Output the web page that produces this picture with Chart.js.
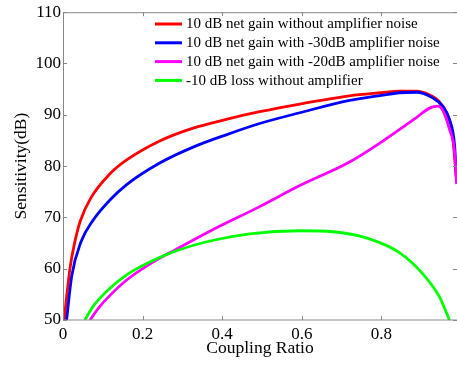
<!DOCTYPE html>
<html>
<head>
<meta charset="utf-8">
<script src="https://cdn.jsdelivr.net/npm/chart.js@4.4.0/dist/chart.umd.min.js"></script>
<style>
  html, body { margin: 0; padding: 0; background: #fff; }
  #wrap { width: 457px; height: 365px; }
</style>
</head>
<body>
<div id="wrap"><canvas id="chart" width="457" height="365"></canvas></div>
<script>
// values
const seriesNames = [
  '10 dB net gain without amplifier noise',
  '10 dB net gain with -30dB amplifier noise',
  '10 dB net gain with -20dB amplifier noise',
  '-10 dB loss without amplifier'
];
const seriesColors = ['#ff0000', '#0000ff', '#ff00ff', '#00ff00'];

const redX = [0.003, 0.009, 0.018, 0.028, 0.043, 0.07, 0.118, 0.16, 0.243, 0.327, 0.41, 0.494, 0.595, 0.72, 0.80, 0.846, 0.888, 0.92, 0.945, 0.965, 0.978, 0.988];
const redY = [50, 54.5, 60.3, 64.6, 69.2, 73.8, 78.5, 81.2, 84.9, 87.4, 89.1, 90.6, 92.1, 93.7, 94.3, 94.6, 94.6, 93.9, 92.6, 90.2, 86.5, 78.0];

const blueX = [0.009, 0.022, 0.045, 0.076, 0.118, 0.16, 0.243, 0.327, 0.41, 0.494, 0.595, 0.72, 0.80, 0.846, 0.888, 0.929, 0.954, 0.971, 0.984, 0.989];
const blueY = [50, 58.6, 65.2, 69.5, 73.4, 76.4, 80.6, 83.7, 86.1, 88.3, 90.4, 92.8, 93.8, 94.3, 94.4, 93.3, 91.7, 89.1, 84.0, 77.0];

const magentaX = [0.068, 0.09, 0.118, 0.16, 0.218, 0.285, 0.369, 0.494, 0.595, 0.72, 0.804, 0.887, 0.921, 0.942, 0.954, 0.971, 0.984, 0.989];
const magentaY = [50, 52.4, 54.8, 57.8, 60.9, 63.8, 67.3, 72.1, 76.2, 80.8, 84.9, 89.4, 91.3, 91.7, 90.9, 87.2, 82.7, 76.5];

const greenX = [0.055, 0.076, 0.118, 0.16, 0.218, 0.285, 0.369, 0.469, 0.595, 0.678, 0.762, 0.846, 0.904, 0.946, 0.971];
const greenY = [50, 52.7, 56.2, 58.8, 61.3, 63.5, 65.4, 66.8, 67.4, 67.2, 66.0, 63.1, 59.0, 54.5, 50];

const xTicks = [0, 0.2, 0.4, 0.6, 0.8];
const yTicks = [50, 60, 70, 80, 90, 100, 110];

const xs = [redX, blueX, magentaX, greenX];
const ys = [redY, blueY, magentaY, greenY];

const serif = "'Liberation Serif', 'Times New Roman', serif";
const frameColor = '#888888';

// box round the plot with inward tick marks on all four sides
const framePlugin = {
  id: 'frame',
  afterDatasetsDraw(chart) {
    const { ctx, chartArea: a, scales } = chart;
    ctx.save();
    ctx.strokeStyle = frameColor;
    ctx.lineWidth = 1;
    ctx.strokeRect(a.left + 0.5, a.top + 0.5, a.right - a.left, a.bottom - a.top - 0.5);
    ctx.beginPath();
    xTicks.forEach(v => {
      const px = Math.round(scales.x.getPixelForValue(v)) + 0.5;
      ctx.moveTo(px, a.bottom); ctx.lineTo(px, a.bottom - 4);
      ctx.moveTo(px, a.top); ctx.lineTo(px, a.top + 4);
    });
    yTicks.forEach(v => {
      const py = Math.round(scales.y.getPixelForValue(v)) + 0.5;
      ctx.moveTo(a.left, py); ctx.lineTo(a.left + 4, py);
      ctx.moveTo(a.right, py); ctx.lineTo(a.right - 4, py);
    });
    ctx.stroke();
    ctx.restore();
  }
};

// legend inside the plot, no box
const legendPlugin = {
  id: 'innerLegend',
  afterDraw(chart) {
    const { ctx } = chart;
    ctx.save();
    ctx.font = '15px ' + serif;
    ctx.textBaseline = 'middle';
    ctx.fillStyle = '#000';
    chart.data.datasets.forEach((ds, i) => {
      const y = 24 + i * 18.8;
      ctx.strokeStyle = ds.borderColor;
      ctx.lineWidth = 3;
      ctx.beginPath();
      ctx.moveTo(155, y);
      ctx.lineTo(182, y);
      ctx.stroke();
      ctx.fillText(ds.label, 186, y + 0.5);
    });
    ctx.restore();
  }
};

const datasets = seriesNames.map((name, i) => ({
  label: name,
  data: xs[i].map((x, j) => ({ x: x, y: ys[i][j] })),
  borderColor: seriesColors[i],
  backgroundColor: seriesColors[i],
  borderWidth: 2.8,
  pointRadius: 0,
  fill: false,
  cubicInterpolationMode: 'monotone',
  order: 4 - i
}));

new Chart(document.getElementById('chart'), {
  type: 'line',
  data: { datasets: datasets },
  options: {
    responsive: false,
    animation: false,
    layout: { padding: { top: 8, right: 0, bottom: 0, left: 0 } },
    plugins: {
      legend: { display: false },
      tooltip: { enabled: false }
    },
    scales: {
      x: {
        type: 'linear',
        min: 0,
        max: 0.99,
        afterBuildTicks: s => { s.ticks = xTicks.map(v => ({ value: v })); },
        afterFit: s => { s.height = 45; },
        grid: { display: false, drawTicks: false },
        border: { display: false },
        ticks: {
          padding: 4,
          color: '#000',
          font: { family: serif, size: 17 },
          callback: v => String(v)
        },
        title: {
          display: true,
          text: 'Coupling Ratio',
          color: '#000',
          font: { family: serif, size: 17.5 },
          padding: { top: 0, bottom: 6 }
        }
      },
      y: {
        min: 50,
        max: 110,
        afterBuildTicks: s => { s.ticks = yTicks.map(v => ({ value: v })); },
        afterFit: s => { s.width = 63; },
        grid: { display: false, drawTicks: false },
        border: { display: false },
        ticks: {
          padding: 2,
          color: '#000',
          font: { family: serif, size: 17 }
        },
        title: {
          display: true,
          text: 'Sensitivity(dB)',
          color: '#000',
          font: { family: serif, size: 17.5 },
          padding: { top: 11, bottom: 0 }
        }
      }
    }
  },
  plugins: [framePlugin, legendPlugin]
});
</script>
</body>
</html>
